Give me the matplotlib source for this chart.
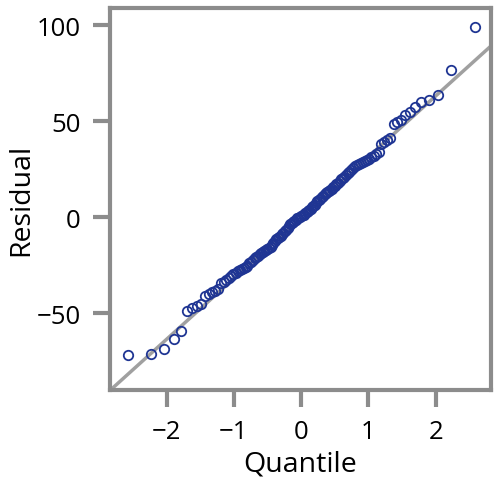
import matplotlib
matplotlib.use("Agg")
import matplotlib.pyplot as plt
from statistics import NormalDist

# Sorted residuals (n = 125)
residuals_low = [
    -72.0, -71.0, -68.5, -63.5, -59.5, -49.0, -47.5, -46.0, -45.0, -41.0,
    -40.0, -39.0, -38.3, -37.5, -34.5, -33.5, -32.5, -31.5, -30.5, -29.8,
    -29.0, -28.2, -27.5, -27.0, -26.5, -25.8, -25.2, -24.0, -23.2, -22.5,
    -21.5, -20.5, -20.0, -19.3, -18.8, -18.3, -17.6, -17.0, -16.5, -16.0,
    -15.4, -14.5, -13.2, -12.3, -11.6, -11.0, -10.3, -9.6, -8.8, -8.0,
    -7.2, -6.5, -5.6, -4.8, -3.8, -3.2, -2.6, -1.8, -1.2, -0.6,
    -0.2, 0.2, 0.5,
]
residuals_high = [
    1.0, 1.4, 2.0, 2.6, 3.3, 4.0, 4.5, 5.2, 6.0, 6.5,
    7.5, 8.5, 9.0, 9.5, 10.5, 11.3, 12.0, 12.5, 13.0, 13.5,
    14.0, 14.5, 15.5, 16.5, 17.2, 18.0, 19.0, 20.0, 20.5, 21.0,
    22.0, 23.0, 23.5, 24.5, 25.5, 26.5, 27.0, 27.5, 28.0, 29.0,
    29.5, 30.0, 30.5, 31.3, 32.0, 33.0, 34.0, 38.0, 39.0, 40.0,
    41.0, 48.7, 49.6, 50.4, 53.0, 55.0, 57.5, 60.0, 61.0, 63.5,
    76.5, 99.0,
]
residuals = residuals_low + residuals_high

# Reference line (mean, std of residuals as drawn)
line_intercept = -0.2
line_slope = 31.7

xticks = [-2, -1, 0, 1, 2]
yticks = [-50, 0, 50, 100]

n = len(residuals)
nd = NormalDist()
quantiles = [nd.inv_cdf((i + 1 - 0.375) / (n + 0.25)) for i in range(n)]

plt.rcParams['font.family'] = ['Open Sans', 'DejaVu Sans']

fig = plt.figure(figsize=(5.0, 4.89), dpi=100)
ax = fig.add_axes([0.22, 0.2004, 0.762, 0.7802])

xlim = (-2.84, 2.82)
ylim = (-90.0, 108.7)
ax.set_xlim(*xlim)
ax.set_ylim(*ylim)

lx = [xlim[0], xlim[1]]
ly = [line_intercept + line_slope * v for v in lx]
ax.plot(lx, ly, color='#a0a0a0', lw=2.5, zorder=1, solid_capstyle='butt')

ax.plot(quantiles, residuals, linestyle='none', marker='o', markersize=6.8,
        markerfacecolor='none', markeredgecolor='#1f3593', markeredgewidth=1.3,
        zorder=2)

ax.set_xticks(xticks)
ax.set_xticklabels(['\u22122', '\u22121', '0', '1', '2'])
ax.set_yticks(yticks)
ax.set_yticklabels(['\u221250', '0', '50', '100'])

for s in ax.spines.values():
    s.set_color('#8c8c8c')
    s.set_linewidth(3)

ax.tick_params(axis='both', direction='out', length=12, width=3,
               color='#8c8c8c', labelsize=18.5, labelcolor='black', pad=9)

ax.set_xlabel('Quantile', fontsize=20.5, labelpad=4)
ax.set_ylabel('Residual', fontsize=20.5, labelpad=1)

fig.savefig('out.png', dpi=100)
